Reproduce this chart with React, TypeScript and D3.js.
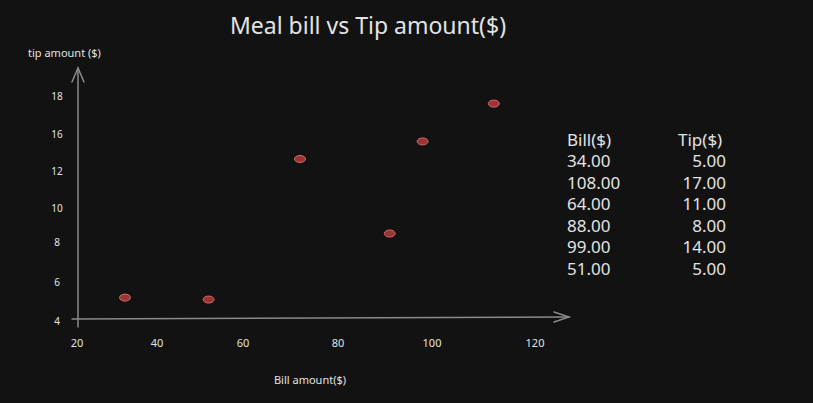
import * as d3 from 'd3'

const xTicks = [20, 40, 60, 80, 100, 120]
const yTicks = [4, 6, 8, 10, 12, 16, 18]
// points (hand-placed in the original)
const pointBill = [32, 52, 72, 91, 98, 112]
const pointTip = [5.2, 5.1, 13.3, 8.5, 15.2, 17.6]
// table on the right
const tableBill = ['34.00', '108.00', '64.00', '88.00', '99.00', '51.00']
const tableTip = ['5.00', '17.00', '11.00', '8.00', '14.00', '5.00']

const W = 813
const H = 403
const FONT = "'Comic Sans MS', 'Noto Sans', Lato, sans-serif"
const INK = '#e3e3e3'
const AXIS = '#8a8a8a'

export default function App() {
  // the sketch's tick spacing is uneven, so use piecewise scales
  const x = d3.scaleLinear(xTicks, [77, 157, 243, 338, 432, 535])
  const y = d3.scaleLinear(yTicks, [321, 282, 242, 208, 171, 134, 96])
  const rowY = d3.scaleLinear([0, 1], [162, 183.5])

  return (
    <div style={{ position: 'fixed', inset: 0, background: '#121212' }}>
      <svg width={W} height={H} style={{ display: 'block' }} fontFamily={FONT}>
        <rect width={W} height={H} fill="#121212" />
        <text x={368} y={34} textAnchor="middle" fill={INK} fontSize={23}>
          Meal bill vs Tip amount($)
        </text>
        <text x={28} y={57} fill={INK} fontSize={11}>tip amount ($)</text>
        <text x={310} y={384} textAnchor="middle" fill={INK} fontSize={11}>Bill amount($)</text>

        {/* axes */}
        <g stroke={AXIS} strokeWidth={1.5} fill="none" strokeLinecap="round">
          <path d="M78,327 L78,68" />
          <path d="M72,82 L78,68 L84,82" />
          <path d="M72,319 L569,317" />
          <path d="M554,312 L569,317 L554,322" />
        </g>

        {yTicks.map((t) => (
          <text key={t} x={57} y={y(t) + 4} textAnchor="middle" fill={INK} fontSize={10}>
            {t}
          </text>
        ))}
        {xTicks.map((t) => (
          <text key={t} x={x(t)} y={347} textAnchor="middle" fill={INK} fontSize={11}>
            {t}
          </text>
        ))}

        {pointBill.map((b, i) => (
          <ellipse
            key={i}
            cx={x(b)}
            cy={y(pointTip[i])}
            rx={5.5}
            ry={3.5}
            fill="#9b3434"
            stroke="#d86a6a"
            strokeWidth={1}
          />
        ))}

        <g fill={INK} fontSize={17}>
          <text x={567} y={146}>Bill($)</text>
          <text x={678} y={146}>Tip($)</text>
          {tableBill.map((v, i) => (
            <text key={'b' + i} x={567} y={rowY(i) + 5}>{v}</text>
          ))}
          {tableTip.map((v, i) => (
            <text key={'t' + i} x={726} y={rowY(i) + 5} textAnchor="end">{v}</text>
          ))}
        </g>
      </svg>
    </div>
  )
}
